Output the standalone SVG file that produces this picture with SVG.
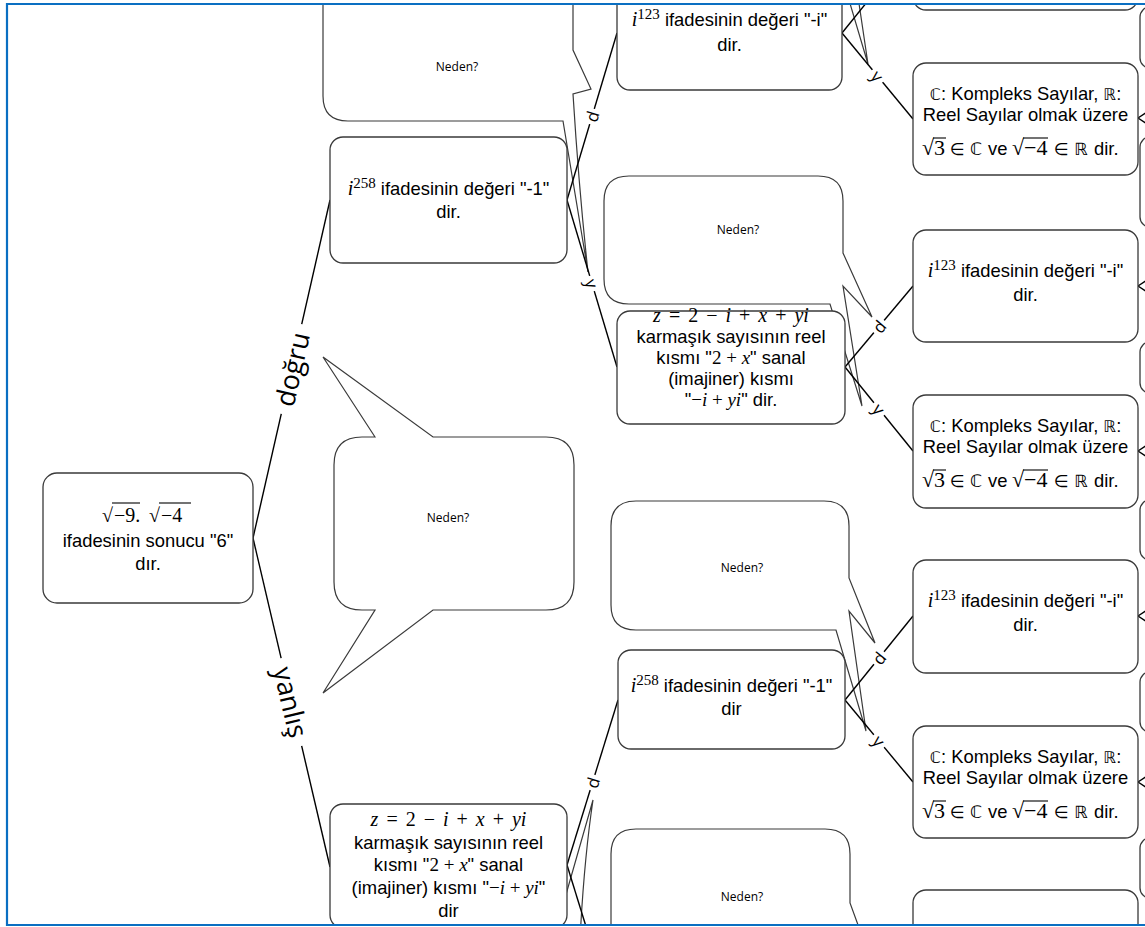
<svg xmlns="http://www.w3.org/2000/svg" width="1145" height="927" viewBox="0 0 1145 927">
<style>
.box{fill:#fff;stroke:#3a3a3a;stroke-width:1.3}
.bub{fill:#fff;stroke:#3a3a3a;stroke-width:1.2;stroke-linejoin:miter}
.con{stroke:#000;stroke-width:1.4;fill:none}
.t{font-family:"Liberation Sans",Arial,sans-serif;font-size:18.4px;fill:#000;text-anchor:middle}
.s{text-anchor:start}
.n{font-family:"Liberation Serif","DejaVu Serif",serif;font-style:normal;font-size:19px}
.m{font-family:"Liberation Serif","DejaVu Serif",serif;font-style:italic;font-size:19px}
.sup{font-family:"Liberation Serif",serif;font-style:normal;font-size:15px}
.sym{font-family:"DejaVu Sans",sans-serif;font-size:16px}
.nd{font-family:"Open Sans",sans-serif;font-size:12px;text-anchor:middle;fill:#000}
.lab{font-family:"Open Sans",sans-serif;text-anchor:middle;dominant-baseline:central;fill:#000}
.lb{fill:#fff;stroke:none}
.ov{stroke:#000;stroke-width:1.1}
.frame{stroke:#0a6fc2;stroke-width:2.2;fill:none}
</style>
<defs>
<clipPath id="clip"><rect x="7" y="4" width="1140" height="921"/></clipPath>
</defs>
<g clip-path="url(#clip)">
<g id="bubbles">
<path id="bubble-top" class="bub" d="M323,-20 V96 Q323,121 348,121 H563 L588,272 Q579,190 573,94 L591,89 L573,50 V-20 Z"/>
<path id="bubble-mid" class="bub" d="M375,437 L323,357 L433,437 H546 Q574,437 574,465 V582 Q574,610 546,610 H433 L323,693 L375,610 H362 Q334,610 334,582 V465 Q334,437 362,437 Z"/>
<path id="bubble-c2" class="bub" d="M629,176 H818 Q843,176 843,201 V253 L872,317 L843,286 L862,406 L830,304 H629 Q604,304 604,279 V201 Q604,176 629,176 Z"/>
<path id="bubble-c3" class="bub" d="M636,501 H824 Q849,501 849,526 V578 L875,643 L849,611 L866,731 L836,630 H636 Q611,630 611,605 V526 Q611,501 636,501 Z"/>
<path id="bubble-c4" class="bub" d="M636,829 H825 Q850,829 850,854 V903 L880,985 L611,985 V854 Q611,829 636,829 Z"/>
<path class="bub" d="M846,-10 L868,64 L857,-10 Z"/>
<path class="bub" d="M553,940 L593,800 Q584,860 580,940 Z"/>
<text class="nd" x="457" y="71">Neden?</text>
<text class="nd" x="448" y="522">Neden?</text>
<text class="nd" x="738" y="234">Neden?</text>
<text class="nd" x="742" y="572">Neden?</text>
<text class="nd" x="742" y="901">Neden?</text>
</g>
<g id="connectors">
<path class="con" d="M253,538 L330,200"/>
<path class="con" d="M253,538 L330,867"/>
<path class="con" d="M567,200 L617,33"/>
<path class="con" d="M567,200 L617,367"/>
<path class="con" d="M842,33 L913,-55"/>
<path class="con" d="M842,33 L913,119"/>
<path class="con" d="M845,367 L913,286"/>
<path class="con" d="M845,367 L913,451"/>
<path class="con" d="M567,865 L618,700"/>
<path class="con" d="M567,865 L618,1030"/>
<path class="con" d="M845,700 L913,616"/>
<path class="con" d="M845,700 L913,782"/>
<path class="con" d="M1138,118 L1147,112 M1138,118 L1147,124"/>
<path class="con" d="M1138,286 L1147,280 M1138,286 L1147,292"/>
<path class="con" d="M1138,451 L1147,445 M1138,451 L1147,457"/>
<path class="con" d="M1138,616 L1147,610 M1138,616 L1147,622"/>
<path class="con" d="M1138,782 L1147,776 M1138,782 L1147,788"/>
<g transform="translate(291.5,369) rotate(-77.2)"><rect class="lb" x="-46" y="-15" width="92" height="30"/><text class="lab" style="font-size:27px">doğru</text></g>
<g transform="translate(291.5,702) rotate(76.8)"><rect class="lb" x="-45" y="-15" width="90" height="30"/><text class="lab" style="font-size:27px">yanlış</text></g>
<g transform="translate(592,116.5) rotate(-73.3)"><rect class="lb" x="-8" y="-9" width="16" height="18"/><text class="lab" style="font-size:17px">d</text></g>
<g transform="translate(592,283.5) rotate(73.3)"><rect class="lb" x="-8" y="-9" width="16" height="18"/><text class="lab" style="font-size:17px">y</text></g>
<g transform="translate(877.5,76) rotate(50.5)"><rect class="lb" x="-8" y="-9" width="16" height="18"/><text class="lab" style="font-size:17px">y</text></g>
<g transform="translate(879,326.5) rotate(-50)"><rect class="lb" x="-8" y="-9" width="16" height="18"/><text class="lab" style="font-size:17px">d</text></g>
<g transform="translate(879,409) rotate(51)"><rect class="lb" x="-8" y="-9" width="16" height="18"/><text class="lab" style="font-size:17px">y</text></g>
<g transform="translate(592.5,782.5) rotate(-72.8)"><rect class="lb" x="-8" y="-9" width="16" height="18"/><text class="lab" style="font-size:17px">d</text></g>
<g transform="translate(879,658) rotate(-51)"><rect class="lb" x="-8" y="-9" width="16" height="18"/><text class="lab" style="font-size:17px">d</text></g>
<g transform="translate(879,741) rotate(50.3)"><rect class="lb" x="-8" y="-9" width="16" height="18"/><text class="lab" style="font-size:17px">y</text></g>
</g>

<g id="n-root" transform="translate(43,473)">
<rect class="box" width="210" height="130" rx="14"/>
<text class="t s" y="49"><tspan class="n" x="59" style="font-size:20px">√</tspan><tspan class="n" x="71" style="font-size:20px">−9.</tspan><tspan class="n" x="106" style="font-size:20px">√</tspan><tspan class="n" x="118" style="font-size:20px">−4</tspan></text>
<line class="ov" x1="69" y1="30" x2="97" y2="30"/><line class="ov" x1="116" y1="30" x2="148" y2="30"/>
<text class="t" x="105" y="74">ifadesinin sonucu "6"</text>
<text class="t" x="105" y="97">dır.</text>
</g>

<g id="n-a" transform="translate(330,137)">
<rect class="box" width="237" height="126" rx="13"/>
<text class="t" x="118.5" y="58"><tspan class="m" style="font-size:20px">i</tspan><tspan class="sup" dy="-7">258</tspan><tspan dy="7"> ifadesinin değeri "-1"</tspan></text>
<text class="t" x="118.5" y="81">dir.</text>
</g>

<g id="n-c1" transform="translate(617,-28)">
<rect class="box" width="225" height="118" rx="13"/>
<text class="t" x="112.5" y="54"><tspan class="m" style="font-size:20px">i</tspan><tspan class="sup" dy="-7">123</tspan><tspan dy="7"> ifadesinin değeri "-i"</tspan></text>
<text class="t" x="112.5" y="79">dir.</text>
</g>

<g id="n-d1" transform="translate(617,311)">
<rect class="box" width="228" height="113" rx="13"/>
<text class="t" x="114" y="11" style="word-spacing:3px"><tspan class="m" style="font-size:20px">z</tspan><tspan class="n" style="font-size:20px"> = 2 − </tspan><tspan class="m" style="font-size:20px">i</tspan><tspan class="n" style="font-size:20px"> + </tspan><tspan class="m" style="font-size:20px">x</tspan><tspan class="n" style="font-size:20px"> + </tspan><tspan class="m" style="font-size:20px">yi</tspan></text>
<text class="t" x="114" y="32">karmaşık sayısının reel</text>
<text class="t" x="114" y="53">kısmı "<tspan class="n">2 + </tspan><tspan class="m">x</tspan>" sanal</text>
<text class="t" x="114" y="74">(imajiner) kısmı</text>
<text class="t" x="114" y="95">"<tspan class="n">−</tspan><tspan class="m">i</tspan><tspan class="n"> + </tspan><tspan class="m">yi</tspan>" dir.</text>
</g>

<g id="n-b" transform="translate(330,804)">
<rect class="box" width="237" height="124" rx="13"/>
<text class="t" x="118.5" y="22" style="word-spacing:3px"><tspan class="m" style="font-size:20px">z</tspan><tspan class="n" style="font-size:20px"> = 2 − </tspan><tspan class="m" style="font-size:20px">i</tspan><tspan class="n" style="font-size:20px"> + </tspan><tspan class="m" style="font-size:20px">x</tspan><tspan class="n" style="font-size:20px"> + </tspan><tspan class="m" style="font-size:20px">yi</tspan></text>
<text class="t" x="118.5" y="45">karmaşık sayısının reel</text>
<text class="t" x="118.5" y="67">kısmı "<tspan class="n">2 + </tspan><tspan class="m">x</tspan>" sanal</text>
<text class="t" x="118.5" y="90">(imajiner) kısmı "<tspan class="n">−</tspan><tspan class="m">i</tspan><tspan class="n"> + </tspan><tspan class="m">yi</tspan>"</text>
<text class="t" x="118.5" y="113">dir</text>
</g>

<g id="n-d2" transform="translate(618,650)">
<rect class="box" width="227" height="99" rx="13"/>
<text class="t" x="113.5" y="42"><tspan class="m" style="font-size:20px">i</tspan><tspan class="sup" dy="-7">258</tspan><tspan dy="7"> ifadesinin değeri "-1"</tspan></text>
<text class="t" x="113.5" y="65">dir</text>
</g>

<g id="n-e0" transform="translate(913,-120)"><rect class="box" width="225" height="130" rx="13"/></g>

<g id="n-e1" transform="translate(913,63)">
<rect class="box" width="225" height="112" rx="13"/>
<text class="t" x="112.5" y="36.5"><tspan class="sym">ℂ</tspan>: Kompleks Sayılar, <tspan class="sym">ℝ</tspan>:</text>
<text class="t" x="112.5" y="57.5">Reel Sayılar olmak üzere</text>
<text class="t s" y="92"><tspan class="n" x="9" style="font-size:22px">√</tspan><tspan class="n" x="21" style="font-size:22px">3</tspan><tspan class="sym" x="37" style="font-size:17px">∈</tspan><tspan class="sym" x="57" style="font-size:17px">ℂ</tspan><tspan x="75">ve</tspan><tspan class="n" x="99" style="font-size:22px">√</tspan><tspan class="n" x="111" style="font-size:22px">−4</tspan><tspan class="sym" x="141" style="font-size:17px">∈</tspan><tspan class="sym" x="161" style="font-size:17px">ℝ</tspan><tspan x="181">dir.</tspan></text>
<line class="ov" x1="20" y1="75" x2="33" y2="75"/><line class="ov" x1="110" y1="75" x2="135" y2="75"/>
</g>

<g id="n-e2" transform="translate(913,230)">
<rect class="box" width="225" height="112" rx="13"/>
<text class="t" x="112.5" y="47"><tspan class="m" style="font-size:20px">i</tspan><tspan class="sup" dy="-7">123</tspan><tspan dy="7"> ifadesinin değeri "-i"</tspan></text>
<text class="t" x="112.5" y="71">dir.</text>
</g>

<g id="n-e3" transform="translate(913,395)">
<rect class="box" width="225" height="113" rx="13"/>
<text class="t" x="112.5" y="36.5"><tspan class="sym">ℂ</tspan>: Kompleks Sayılar, <tspan class="sym">ℝ</tspan>:</text>
<text class="t" x="112.5" y="57.5">Reel Sayılar olmak üzere</text>
<text class="t s" y="92"><tspan class="n" x="9" style="font-size:22px">√</tspan><tspan class="n" x="21" style="font-size:22px">3</tspan><tspan class="sym" x="37" style="font-size:17px">∈</tspan><tspan class="sym" x="57" style="font-size:17px">ℂ</tspan><tspan x="75">ve</tspan><tspan class="n" x="99" style="font-size:22px">√</tspan><tspan class="n" x="111" style="font-size:22px">−4</tspan><tspan class="sym" x="141" style="font-size:17px">∈</tspan><tspan class="sym" x="161" style="font-size:17px">ℝ</tspan><tspan x="181">dir.</tspan></text>
<line class="ov" x1="20" y1="75" x2="33" y2="75"/><line class="ov" x1="110" y1="75" x2="135" y2="75"/>
</g>

<g id="n-e4" transform="translate(913,560)">
<rect class="box" width="225" height="113" rx="13"/>
<text class="t" x="112.5" y="47"><tspan class="m" style="font-size:20px">i</tspan><tspan class="sup" dy="-7">123</tspan><tspan dy="7"> ifadesinin değeri "-i"</tspan></text>
<text class="t" x="112.5" y="71">dir.</text>
</g>

<g id="n-e5" transform="translate(913,726)">
<rect class="box" width="225" height="112" rx="13"/>
<text class="t" x="112.5" y="36.5"><tspan class="sym">ℂ</tspan>: Kompleks Sayılar, <tspan class="sym">ℝ</tspan>:</text>
<text class="t" x="112.5" y="57.5">Reel Sayılar olmak üzere</text>
<text class="t s" y="92"><tspan class="n" x="9" style="font-size:22px">√</tspan><tspan class="n" x="21" style="font-size:22px">3</tspan><tspan class="sym" x="37" style="font-size:17px">∈</tspan><tspan class="sym" x="57" style="font-size:17px">ℂ</tspan><tspan x="75">ve</tspan><tspan class="n" x="99" style="font-size:22px">√</tspan><tspan class="n" x="111" style="font-size:22px">−4</tspan><tspan class="sym" x="141" style="font-size:17px">∈</tspan><tspan class="sym" x="161" style="font-size:17px">ℝ</tspan><tspan x="181">dir.</tspan></text>
<line class="ov" x1="20" y1="75" x2="33" y2="75"/><line class="ov" x1="110" y1="75" x2="135" y2="75"/>
</g>

<g id="n-e6" transform="translate(913,890)"><rect class="box" width="225" height="112" rx="13"/></g>

<g id="n-f1"><rect class="box" x="1140" y="7" width="60" height="61" rx="10"/></g>
<g id="n-f2"><rect class="box" x="1140" y="137" width="60" height="90" rx="10"/></g>
<g id="n-f3"><rect class="box" x="1140" y="342" width="60" height="51" rx="10"/></g>
<g id="n-f4"><rect class="box" x="1140" y="500" width="60" height="60" rx="10"/></g>
<g id="n-f5"><rect class="box" x="1140" y="672" width="60" height="60" rx="10"/></g>
<g id="n-f6"><rect class="box" x="1140" y="838" width="60" height="60" rx="10"/></g>
</g>
<g id="frame"><path class="frame" d="M1146,4 H7 V925 H1146"/></g>
</svg>
